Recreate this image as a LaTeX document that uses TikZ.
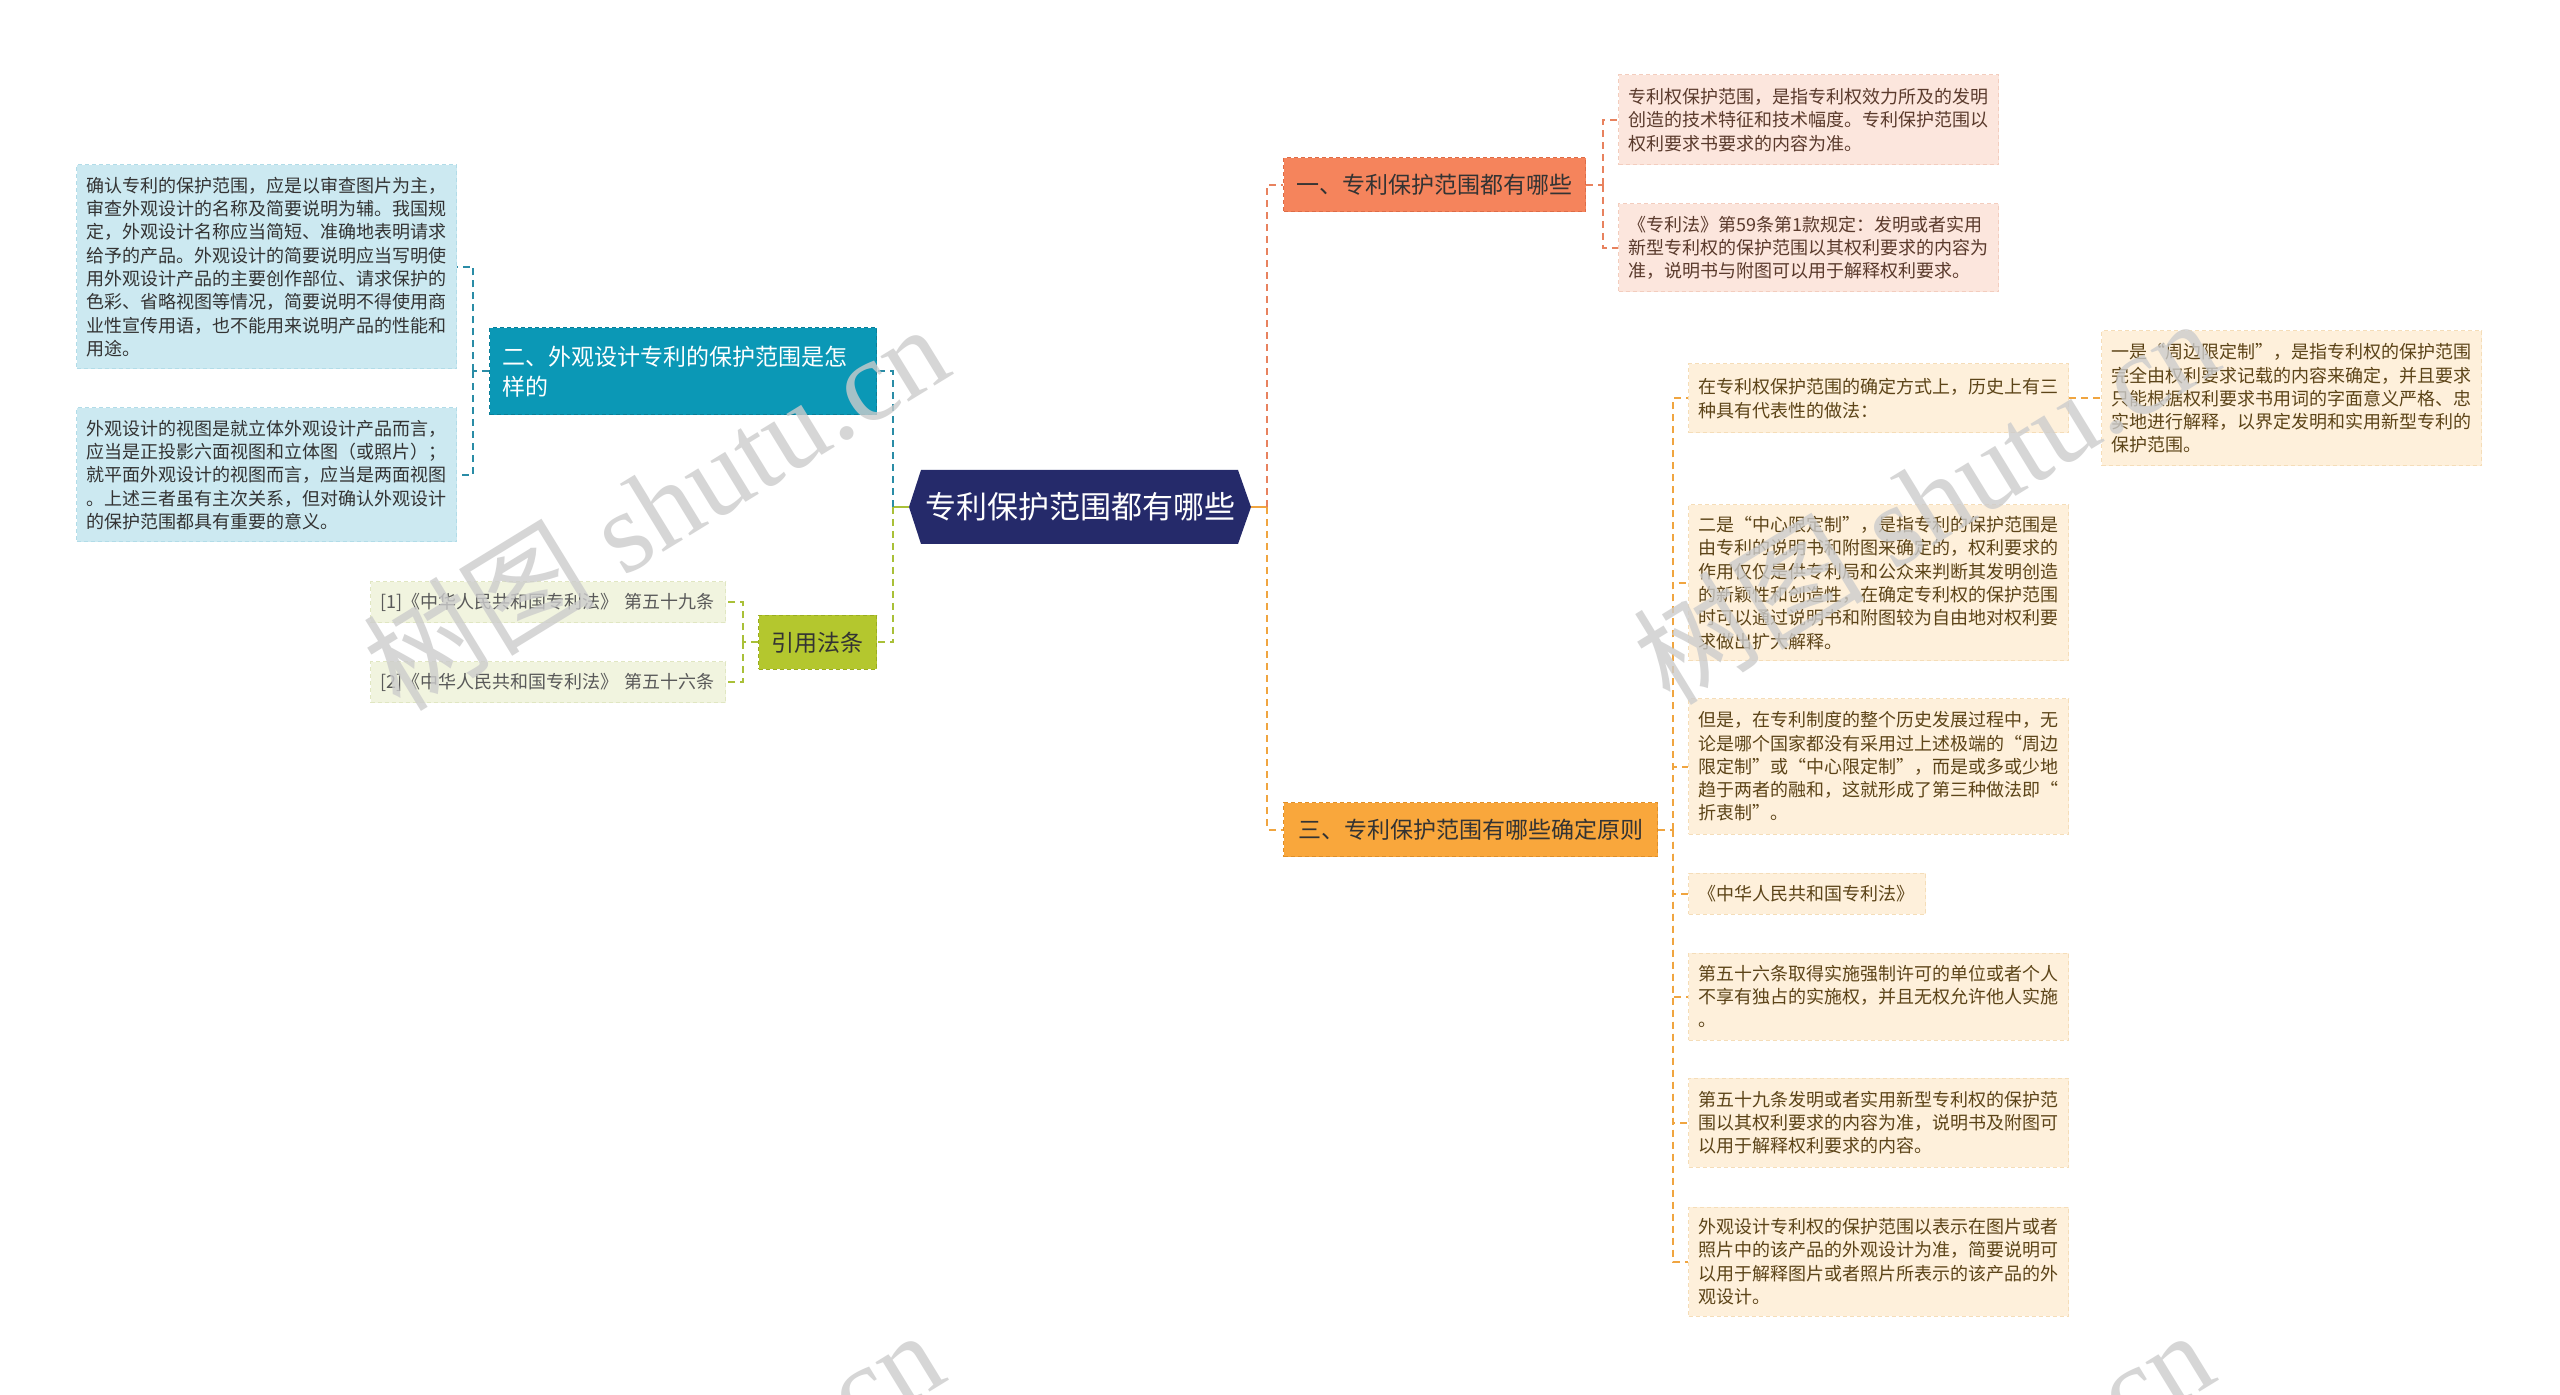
\documentclass[tikz,border=0pt]{standalone}
\usepackage{fontspec}
\setmainfont{Noto Sans CJK SC}
\newfontfamily\wmfont{Liberation Serif}
\definecolor{rootc}{HTML}{252A6A}
\definecolor{bonec}{HTML}{F5845C}
\definecolor{bonebd}{HTML}{DE6C47}
\definecolor{conec}{HTML}{FCE6DD}
\definecolor{conebd}{HTML}{F3CDBE}
\definecolor{lonec}{HTML}{E8825E}
\definecolor{btwoc}{HTML}{0B98B6}
\definecolor{btwobd}{HTML}{0A7F99}
\definecolor{ctwoc}{HTML}{CCE9F1}
\definecolor{ctwobd}{HTML}{B2DCE8}
\definecolor{ltwoc}{HTML}{2A8CA6}
\definecolor{bthrc}{HTML}{F9A73C}
\definecolor{bthrbd}{HTML}{E08F28}
\definecolor{cthrc}{HTML}{FEF0DB}
\definecolor{cthrbd}{HTML}{F5DDB8}
\definecolor{lthrc}{HTML}{F0A540}
\definecolor{bfouc}{HTML}{B4C72E}
\definecolor{bfoubd}{HTML}{9AAD20}
\definecolor{cfouc}{HTML}{F1F4DF}
\definecolor{cfoubd}{HTML}{E0E6C2}
\definecolor{lfouc}{HTML}{A9C038}
\definecolor{tbrown}{HTML}{5C4418}
\definecolor{tpink}{HTML}{5A3A2C}
\definecolor{tdark}{HTML}{333333}
\tikzset{
  boxdash/.style={dash pattern=on 2pt off 1.5pt, line width=0.5pt},
  leaf/.style={boxdash, inner xsep=5pt, inner ysep=0pt, align=left,
    font=\fontsize{9pt}{11.65pt}\selectfont},
  leafwide/.style={leaf, text width=180pt},
  cone/.style={leafwide, fill=conec, draw=conebd, text=tpink, anchor=west},
  ctwo/.style={leafwide, fill=ctwoc, draw=ctwobd, text=tdark, anchor=east},
  cthr/.style={leafwide, fill=cthrc, draw=cthrbd, text=tbrown, anchor=west},
  cfou/.style={leaf, text width=167.5pt, fill=cfouc, draw=cfoubd, text=black!65, anchor=east},
  branch/.style={boxdash, inner sep=0pt, minimum height=27pt, align=center,
    font=\fontsize{11.5pt}{15pt}\selectfont},
  conn/.style={line width=1pt, dash pattern=on 3.5pt off 2.5pt},
  lone/.style={conn, draw=lonec},
  ltwo/.style={conn, draw=ltwoc},
  lthr/.style={conn, draw=lthrc},
  lfou/.style={conn, draw=lfouc},
  wmark/.style={rotate=31.5, text=black!20, opacity=0.8,
    font=\wmfont\fontsize{58pt}{58pt}\selectfont}
}
\begin{document}
\begin{tikzpicture}[x=0.5pt,y=-0.5pt]
\useasboundingbox (0,0) rectangle (2560,1395);
\fill[white] (0,0) rectangle (2560,1395);
\begin{scope}
\clip (0,0) rectangle (2560,1395);

% root hexagon
\fill[rootc] (909,507) -- (921,470) -- (1238,470) -- (1251,507) -- (1238,544) -- (921,544) -- cycle;
\node[minimum width=171pt, minimum height=37pt, inner sep=0pt, text=white,
  font=\fontsize{15.5pt}{18pt}\selectfont] (root) at (1080,507) {专利保护范围都有哪些};

% branches
\node[branch, anchor=west, minimum width=151pt, fill=bonec, draw=bonebd, text=black!80] (b1) at (1283,185) {一、专利保护范围都有哪些};
\node[branch, anchor=west, minimum width=187pt, fill=bthrc, draw=bthrbd, text=black!80] (b3) at (1283,829.5) {三、专利保护范围有哪些确定原则};
\node[branch, anchor=east, minimum height=43.5pt, text width=180.5pt, inner xsep=6.5pt, align=left, fill=btwoc, draw=btwobd, text=white] (b2) at (877,371.5) {二、外观设计专利的保护范围是怎\\样的};
\node[branch, anchor=east, minimum width=59pt, fill=bfouc, draw=bfoubd, text=black!80] (b4) at (877,642.5) {引用法条};

% branch 1 children
\node[cone, minimum height=45pt] (c1a) at (1618,120) {专利权保护范围，是指专利权效力所及的发明\\创造的技术特征和技术幅度。专利保护范围以\\权利要求书要求的内容为准。};
\node[cone, minimum height=44pt] (c1b) at (1618,248) {《专利法》第59条第1款规定：发明或者实用\\新型专利权的保护范围以其权利要求的内容为\\准，说明书与附图可以用于解释权利要求。};

% branch 2 children
\node[ctwo, minimum height=102pt] (c2a) at (457,267) {确认专利的保护范围，应是以审查图片为主，\\审查外观设计的名称及简要说明为辅。我国规\\定，外观设计名称应当简短、准确地表明请求\\给予的产品。外观设计的简要说明应当写明使\\用外观设计产品的主要创作部位、请求保护的\\色彩、省略视图等情况，简要说明不得使用商\\业性宣传用语，也不能用来说明产品的性能和\\用途。};
\node[ctwo, minimum height=67pt] (c2b) at (457,475) {外观设计的视图是就立体外观设计产品而言，\\应当是正投影六面视图和立体图（或照片）；\\就平面外观设计的视图而言，应当是两面视图\\。上述三者虽有主次关系，但对确认外观设计\\的保护范围都具有重要的意义。};

% branch 4 children
\node[cfou, minimum height=20.5pt] (c4a) at (726,602.5) {[1]《中华人民共和国专利法》 第五十九条};
\node[cfou, minimum height=20.5pt] (c4b) at (726,682.5) {[2]《中华人民共和国专利法》 第五十六条};

% branch 3 children
\node[cthr, minimum height=34.5pt] (c3a) at (1688,398.5) {在专利权保护范围的确定方式上，历史上有三\\种具有代表性的做法：};
\node[cthr, minimum height=67.5pt] (c3a1) at (2101,398.5) {一是“周边限定制”，是指专利权的保护范围\\完全由权利要求记载的内容来确定，并且要求\\只能根据权利要求书用词的字面意义严格、忠\\实地进行解释，以界定发明和实用新型专利的\\保护范围。};
\node[cthr, minimum height=78pt] (c3b) at (1688,583) {二是“中心限定制”，是指专利的保护范围是\\由专利的说明书和附图来确定的，权利要求的\\作用仅仅是供专利局和公众来判断其发明创造\\的新颖性和创造性，在确定专利权的保护范围\\时可以通过说明书和附图较为自由地对权利要\\求做出扩大解释。};
\node[cthr, minimum height=67.5pt] (c3c) at (1688,766.5) {但是，在专利制度的整个历史发展过程中，无\\论是哪个国家都没有采用过上述极端的“周边\\限定制”或“中心限定制”，而是或多或少地\\趋于两者的融和，这就形成了第三种做法即“\\折衷制”。};
\node[cthr, text width=108.5pt, minimum height=20.5pt] (c3d) at (1688,893.5) {《中华人民共和国专利法》};
\node[cthr, minimum height=43.5pt] (c3e) at (1688,996.5) {第五十六条取得实施强制许可的单位或者个人\\不享有独占的实施权，并且无权允许他人实施\\。};
\node[cthr, minimum height=44.5pt] (c3f) at (1688,1122.5) {第五十九条发明或者实用新型专利权的保护范\\围以其权利要求的内容为准，说明书及附图可\\以用于解释权利要求的内容。};
\node[cthr, minimum height=54.5pt] (c3g) at (1688,1261.5) {外观设计专利权的保护范围以表示在图片或者\\照片中的该产品的外观设计为准，简要说明可\\以用于解释图片或者照片所表示的该产品的外\\观设计。};

% junction points
\coordinate (jr) at (1267,507);
\coordinate (jl) at (893,507);
\coordinate (j1) at (1603,185);
\coordinate (j2) at (473,371.5);
\coordinate (j3) at (1673,829.5);
\coordinate (j4) at (743,642.5);

% root connectors
\draw[line width=1pt, lthrc] (root.east) -- (jr);
\draw[lone] (jr) |- (b1.west);
\draw[lthr] (jr) |- (b3.west);
\draw[line width=1pt, lfouc] (root.west) -- (jl);
\draw[ltwo] (jl) |- (b2.east);
\draw[lfou] (jl) |- (b4.east);

% branch 1
\draw[lone] (b1.east) -- (j1);
\draw[lone] (j1) |- (c1a.west);
\draw[lone] (j1) |- (c1b.west);

% branch 2
\draw[ltwo] (b2.west) -- (j2);
\draw[ltwo] (j2) |- (c2a.east);
\draw[ltwo] (j2) |- (c2b.east);

% branch 4
\draw[lfou] (b4.west) -- (j4);
\draw[lfou] (j4) |- (c4a.east);
\draw[lfou] (j4) |- (c4b.east);

% branch 3
\draw[lthr] (b3.east) -- (j3);
\foreach \n in {c3a,c3b,c3c,c3d,c3e,c3f,c3g}{
  \draw[lthr] (j3) |- (\n.west);
}
\draw[lthr] (c3a.east) -- (c3a1.west);

% watermarks
\node[wmark] (wm1) at (655,506) {{\rmfamily 树图} shutu.cn};
\node[wmark] (wm2) at (1925,500) {{\rmfamily 树图} shutu.cn};
\node[wmark] (wm3) at (650,1512) {{\rmfamily 树图} shutu.cn};
\node[wmark] (wm4) at (1920,1512) {{\rmfamily 树图} shutu.cn};
\end{scope}
\end{tikzpicture}
\end{document}
